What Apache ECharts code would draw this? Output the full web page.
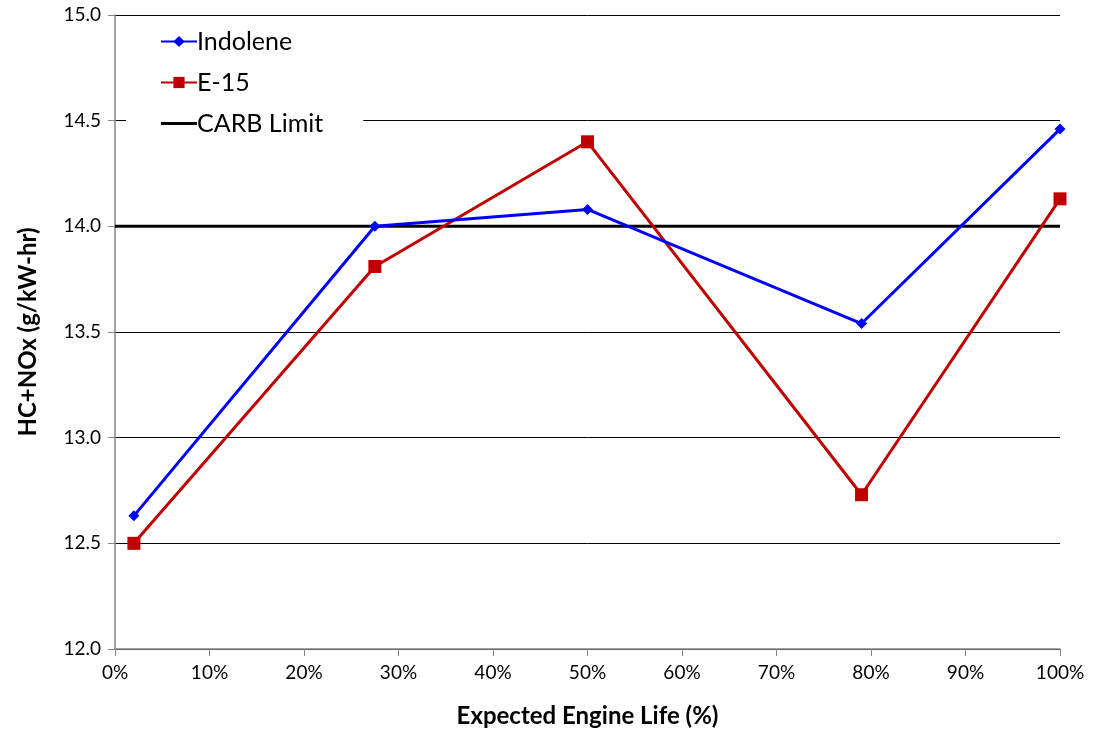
<!DOCTYPE html>
<html>
<head>
<meta charset="utf-8">
<script src="https://cdn.jsdelivr.net/npm/echarts@6/dist/echarts.min.js"></script>
<style>
  html, body { margin: 0; padding: 0; background: #fff; }
  #chart { width: 1093px; height: 738px; }
</style>
</head>
<body>
<div id="chart"></div>
<script>
// engine life (%) for each test point
const lifeIndolene = [2, 27.5, 50, 79, 100]
const hcIndolene = [12.63, 14.0, 14.08, 13.54, 14.46]
const lifeE15 = [2, 27.5, 50, 79, 100]
const hcE15 = [12.5, 13.81, 14.4, 12.73, 14.13]
// CARB limit line
const carbLife = [0, 100]
const carbValue = [14.0, 14.0]

const toPairs = (xs, ys) => xs.map((x, i) => [x, ys[i]])

const font = 'Lato, "Open Sans", sans-serif'
const chart = echarts.init(document.getElementById('chart'))

chart.setOption({
  animation: false,
  textStyle: { fontFamily: font },
  grid: { left: 115, right: 33, top: 15, bottom: 89 },
  legend: {
    orient: 'vertical',
    left: 126,
    top: 24,
    padding: [4, 40, 4, 34],
    backgroundColor: '#fff',
    itemWidth: 36,
    itemHeight: 14,
    itemGap: 14,
    textStyle: { fontSize: 25, lineHeight: 27, color: '#000', fontFamily: font, padding: [0, 0, 0, -5] },
    data: [
      { name: 'Indolene' },
      { name: 'E-15' },
      { name: 'CARB Limit', icon: 'path://M0,6 L36,6 L36,9 L0,9 Z' }
    ]
  },
  xAxis: {
    type: 'value',
    min: 0,
    max: 100,
    interval: 10,
    name: 'Expected Engine Life (%)',
    nameLocation: 'middle',
    nameGap: 55,
    nameTextStyle: { fontSize: 24, fontWeight: 'bold', color: '#000' },
    axisLine: { lineStyle: { color: '#868686', width: 1.5 } },
    axisTick: { show: true, length: 7, lineStyle: { color: '#868686' } },
    axisLabel: { formatter: '{value}%', fontSize: 19, color: '#000', margin: 14 },
    splitLine: { show: false }
  },
  yAxis: {
    type: 'value',
    min: 12,
    max: 15,
    interval: 0.5,
    name: 'HC+NOx (g/kW-hr)',
    nameLocation: 'middle',
    nameGap: 75,
    nameTextStyle: { fontSize: 24, fontWeight: 'bold', color: '#000' },
    axisLine: { show: true, lineStyle: { color: '#868686', width: 1.5 } },
    axisTick: { show: true, length: 7, lineStyle: { color: '#868686' } },
    axisLabel: { formatter: v => v.toFixed(1), fontSize: 19, color: '#000', margin: 14 },
    splitLine: { show: true, lineStyle: { color: '#000', width: 1 } }
  },
  series: [
    {
      name: 'Indolene',
      type: 'line',
      data: toPairs(lifeIndolene, hcIndolene),
      color: '#0000ff',
      lineStyle: { width: 3 },
      symbol: 'diamond',
      symbolSize: 11,
      z: 4
    },
    {
      name: 'E-15',
      type: 'line',
      data: toPairs(lifeE15, hcE15),
      color: '#c00000',
      lineStyle: { width: 3 },
      symbol: 'rect',
      symbolSize: 13,
      z: 3
    },
    {
      name: 'CARB Limit',
      type: 'line',
      data: toPairs(carbLife, carbValue),
      color: '#000',
      lineStyle: { width: 3 },
      symbol: 'none',
      z: 2
    }
  ]
})
</script>
</body>
</html>
